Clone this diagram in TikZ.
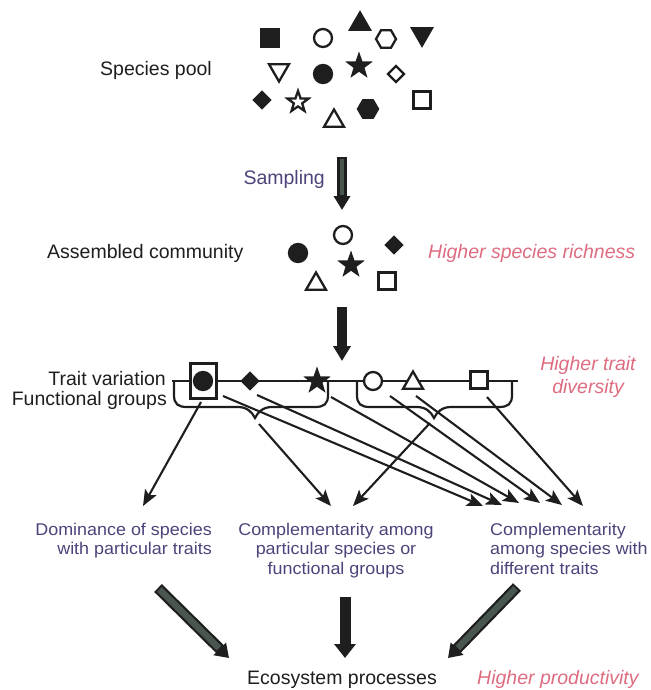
\documentclass[tikz,border=0pt]{standalone}
\usepackage{fontspec}
\setmainfont{Liberation Sans}
\newfontfamily\tgtfont[FakeStretch=1.055]{Liberation Sans}
\usetikzlibrary{shapes.geometric,arrows.meta}
\definecolor{ink}{RGB}{30,30,30}
\definecolor{purp}{RGB}{78,66,122}
\definecolor{pinkt}{RGB}{222,108,128}
\definecolor{shaftc}{RGB}{72,86,78}
\begin{document}
\begin{tikzpicture}[x=1pt,y=-1pt,
  sym/.style={draw=ink, line width=2.3pt, inner sep=0pt},
  fsym/.style={sym, fill=ink},
  osym/.style={sym, fill=white},
  circ/.style={circle, minimum size=18pt},
  sq/.style={rectangle, minimum size=17pt},
  tri/.style={regular polygon, regular polygon sides=3, minimum size=23pt},
  trid/.style={tri, shape border rotate=180},
  hex/.style={regular polygon, regular polygon sides=6, minimum size=20pt},
  starsym/.style={star, star points=5, star point ratio=2.5, minimum size=22pt},
  dia/.style={diamond, minimum width=17pt, minimum height=17pt},
  lbl/.style={text=ink, font=\fontsize{19.5}{23}\selectfont, inner sep=0pt},
  pk/.style={lbl, text=pinkt, font=\fontsize{19.5}{23}\selectfont\itshape},
  tgt/.style={text=purp, font=\tgtfont\fontsize{17}{19.5}\selectfont, inner sep=0pt},
  thin/.style={draw=ink, line width=2.2pt},
  conn/.style={draw=ink, line width=2.1pt, -{Stealth[length=16pt,width=13pt,inset=3.5pt]}},
  solidarrow/.style={draw=ink, -{Triangle[length=#1]}},
]
\useasboundingbox (0,0) rectangle (650,690);

% ---------- labels ----------
\node[lbl, anchor=base west] (pool) at (100,76) {Species pool};
\node[lbl, text=purp, anchor=base east] (samp) at (325,184) {Sampling};
\node[lbl, anchor=base west] (asm) at (47,258) {Assembled community};
\node[pk, anchor=base west] (rich) at (428,258) {Higher species richness};
\node[lbl, anchor=base east] (trait) at (166,385) {Trait variation};
\node[lbl, anchor=base east] (fg) at (167,405) {Functional groups};
\node[pk, align=center, anchor=north] (div) at (588,356) {Higher trait\\diversity};
\node[tgt, align=right, anchor=north east] (dom) at (212,522.5) {Dominance of species\\with particular traits};
\node[tgt, align=center, anchor=north] (cpg) at (336,522.5) {Complementarity among\\particular species or\\functional groups};
\node[tgt, align=left, anchor=north west] (cdt) at (490,522.5) {Complementarity\\among species with\\different traits};
\node[lbl, anchor=base west] (eco) at (247,684) {Ecosystem processes};
\node[pk, anchor=base west] (prod) at (477,684) {Higher productivity};

% ---------- species pool ----------
\node[fsym,sq] (p1) at (270,38) {};
\node[osym,circ] (p2) at (323,38) {};
\node[fsym,tri] (p3) at (360,24) {};
\node[osym,hex] (p4) at (386,39) {};
\node[fsym,trid] (p5) at (422,34) {};
\node[osym,trid] (p6) at (279,70) {};
\node[fsym,circ] (p7) at (323,74) {};
\node[fsym,starsym] (p8) at (359,66) {};
\node[osym,dia] (p9) at (396,74) {};
\node[fsym,dia] (p10) at (262,100) {};
\node[osym,starsym] (p11) at (298,102) {};
\node[osym,tri] (p12) at (334,121) {};
\node[fsym,hex] (p13) at (368,109) {};
\node[osym,sq] (p14) at (422,100) {};

% ---------- sampling arrow ----------
\coordinate (sa1) at (342,157);
\coordinate (sa2) at (342,210);
\draw[solidarrow={14pt,width=16pt}, line width=10pt] (sa1) -- (sa2);
\draw[draw=shaftc, line width=4pt, shorten >=15pt, shorten <=2pt] (sa1) -- (sa2);

% ---------- assembled community ----------
\node[fsym,circ] (c1) at (298,253) {};
\node[osym,circ] (c2) at (343,235) {};
\node[fsym,dia] (c3) at (394,245) {};
\node[fsym,starsym] (c4) at (351,265) {};
\node[osym,tri] (c5) at (316,284) {};
\node[osym,sq] (c6) at (387,281) {};

\coordinate (ba1) at (342,307);
\coordinate (ba2) at (342,361);
\draw[solidarrow={15pt,width=17pt}, line width=10pt] (ba1) -- (ba2);

% ---------- trait line and braces ----------
\coordinate (lnA) at (172,381);
\coordinate (lnB) at (518,381);
\draw[thin] (lnA) -- (lnB);
\draw[thin] (174,381) -- (174,395) .. controls (174,404) and (178,407) .. (187,407)
  -- (238,407) .. controls (247,407) and (252,412) .. (255,418)
  .. controls (258,412) and (263,407) .. (272,407)
  -- (315,407) .. controls (324,407) and (328,404) .. (328,395) -- (328,381);
\draw[thin] (357,381) -- (357,395) .. controls (357,404) and (361,407) .. (370,407)
  -- (417,407) .. controls (426,407) and (431,412) .. (434,418)
  .. controls (437,412) and (442,407) .. (451,407)
  -- (499,407) .. controls (508,407) and (512,404) .. (512,395) -- (512,381);

\node[osym, rectangle, minimum width=26pt, minimum height=35pt] (t0) at (203.5,381) {};
\node[fsym,circ] (t1) at (203,381) {};
\node[fsym,dia] (t2) at (250,381) {};
\node[fsym,starsym] (t3) at (317,381) {};
\node[osym,circ] (t4) at (373,381) {};
\node[osym,tri] (t5) at (413,383) {};
\node[osym,sq] (t6) at (479,380) {};

% ---------- connectors ----------
\coordinate (sL) at (201,402);  \coordinate (eL) at (143,506);
\coordinate (sB1) at (259,424); \coordinate (eB1) at (331,506);
\coordinate (sB2) at (430,423); \coordinate (eB2) at (353,506);
\coordinate (sR1) at (223,396); \coordinate (eR1) at (483,506);
\coordinate (sR2) at (257,395); \coordinate (eR2) at (502,505);
\coordinate (sR3) at (331,397); \coordinate (eR3) at (519,503);
\coordinate (sR4) at (390,396); \coordinate (eR4) at (540,503);
\coordinate (sR5) at (416,396); \coordinate (eR5) at (562,505);
\coordinate (sR6) at (487,397); \coordinate (eR6) at (583,506);
\foreach \k in {L,B1,B2,R1,R2,R3,R4,R5,R6} \draw[conn] (s\k) -- (e\k);

% ---------- bottom arrows ----------
\coordinate (dl1) at (158,588); \coordinate (dl2) at (229,658);
\coordinate (dr1) at (517,587); \coordinate (dr2) at (448,658);
\coordinate (dm1) at (345,597); \coordinate (dm2) at (345,658);
\draw[solidarrow={13pt,width=17pt}, line width=11pt] (dl1) -- (dl2);
\draw[draw=shaftc, line width=6.5pt, shorten >=14pt, shorten <=2pt] (dl1) -- (dl2);
\draw[solidarrow={13pt,width=17pt}, line width=11pt] (dr1) -- (dr2);
\draw[draw=shaftc, line width=6.5pt, shorten >=14pt, shorten <=2pt] (dr1) -- (dr2);
\draw[solidarrow={14pt,width=21pt}, line width=11pt] (dm1) -- (dm2);
\end{tikzpicture}
\end{document}
